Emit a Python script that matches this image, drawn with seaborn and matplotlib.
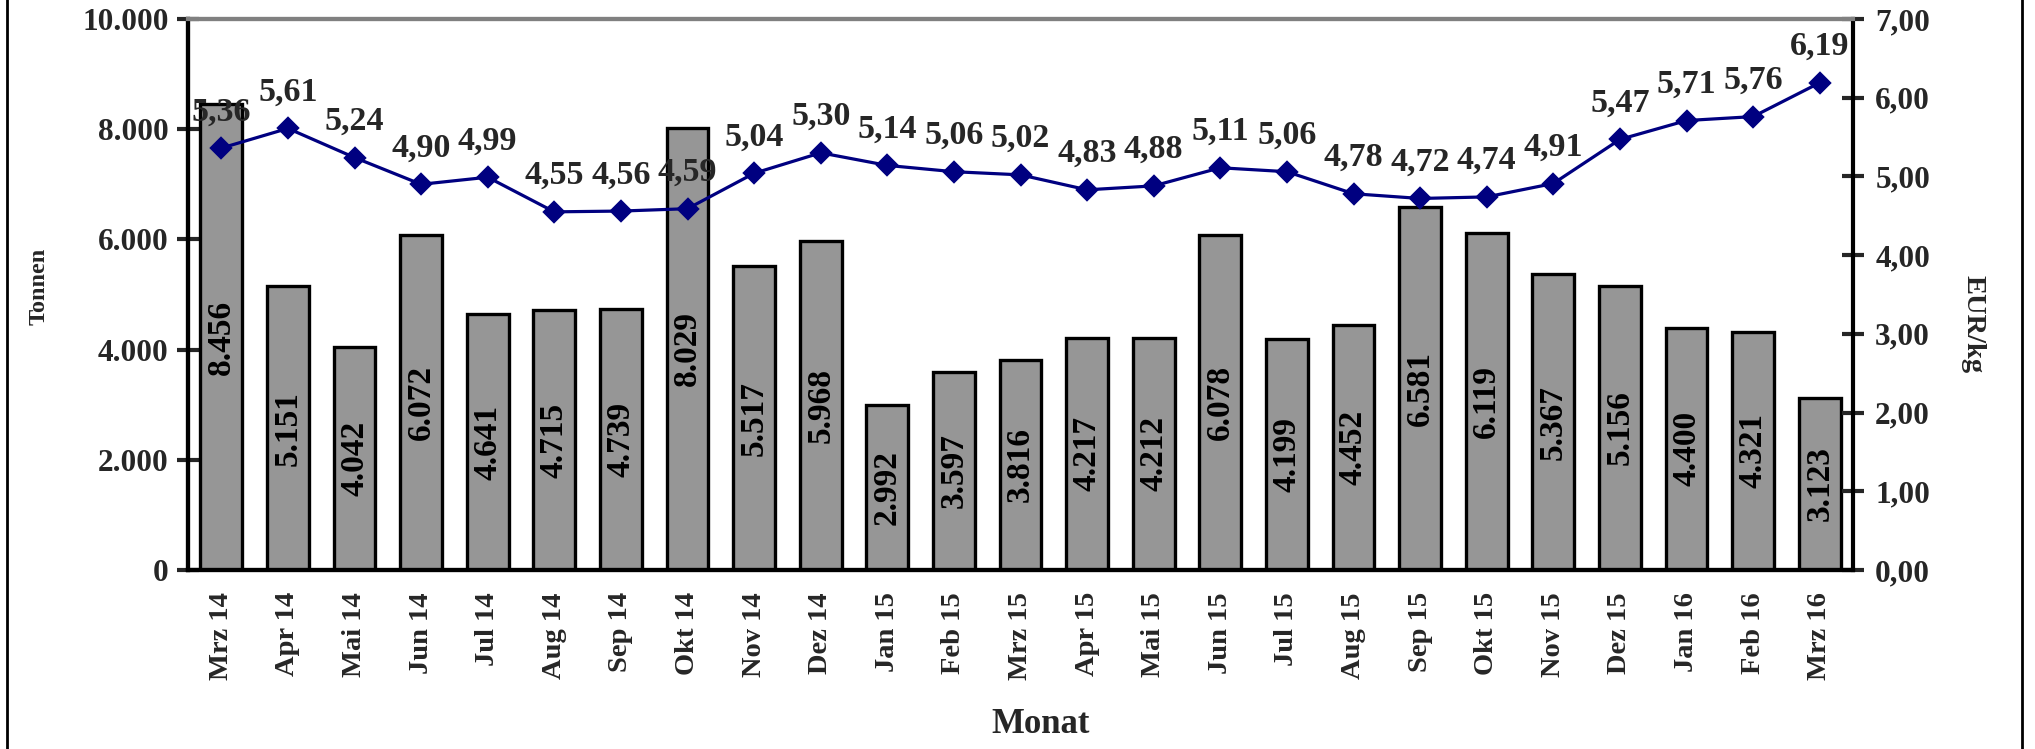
import numpy as np
import pandas as pd
import matplotlib
matplotlib.use('Agg')
import matplotlib.pyplot as plt
from matplotlib.ticker import FuncFormatter, MultipleLocator
from matplotlib.patches import Rectangle
import seaborn as sns

# data
months = ['Mrz 14', 'Apr 14', 'Mai 14', 'Jun 14', 'Jul 14', 'Aug 14', 'Sep 14', 'Okt 14',
          'Nov 14', 'Dez 14', 'Jan 15', 'Feb 15', 'Mrz 15', 'Apr 15', 'Mai 15', 'Jun 15',
          'Jul 15', 'Aug 15', 'Sep 15', 'Okt 15', 'Nov 15', 'Dez 15', 'Jan 16', 'Feb 16', 'Mrz 16']
tonnen = [8456, 5151, 4042, 6072, 4641, 4715, 4739, 8029, 5517, 5968, 2992, 3597, 3816,
          4217, 4212, 6078, 4199, 4452, 6581, 6119, 5367, 5156, 4400, 4321, 3123]
preis = [5.36, 5.61, 5.24, 4.90, 4.99, 4.55, 4.56, 4.59, 5.04, 5.30, 5.14, 5.06, 5.02,
         4.83, 4.88, 5.11, 5.06, 4.78, 4.72, 4.74, 4.91, 5.47, 5.71, 5.76, 6.19]

df = pd.DataFrame({'Monat': months, 'Tonnen': tonnen, 'Preis': preis})

sns.set_style('white')
plt.rcParams['font.family'] = ['Liberation Serif', 'DejaVu Serif']
plt.rcParams['font.weight'] = 'bold'

fig = plt.figure(figsize=(20.35, 7.49), dpi=100)
ax = fig.add_axes([188/2035, 1-570/749, (1853-188)/2035, (570-19)/749])

sns.barplot(data=df, x='Monat', y='Tonnen', color='#969696', saturation=1,
            edgecolor='black', linewidth=2.4, width=0.63, ax=ax)
ax.set_xlim(-0.5, len(months)-0.5)
ax.set_ylim(0, 10000)

# bar values inside, rotated
for i, v in enumerate(tonnen):
    ax.text(i, v/2, f'{v:,}'.replace(',', '.'), rotation=90, ha='center', va='center',
            fontsize=24, fontweight='bold', color='black')

ax2 = ax.twinx()
sns.pointplot(data=df, x='Monat', y='Preis', color='#000080', markers='D',
              linestyles='-', markersize=10, linewidth=2.3, ax=ax2, errorbar=None)
ax2.set_ylim(0, 7)
ax2.set_xlim(-0.5, len(months)-0.5)
for i, v in enumerate(preis):
    ax2.annotate(f'{v:.2f}'.replace('.', ','), (i, v), xytext=(0, 20), textcoords='offset points',
                 ha='center', va='baseline', fontsize=24.5, fontweight='bold')

# axes formatting
ax.yaxis.set_major_locator(MultipleLocator(2000))
ax.yaxis.set_major_formatter(FuncFormatter(lambda v, p: f'{int(v):,}'.replace(',', '.')))
ax2.yaxis.set_major_locator(MultipleLocator(1))
ax2.yaxis.set_major_formatter(FuncFormatter(lambda v, p: f'{v:.2f}'.replace('.', ',')))

ax.tick_params(axis='y', direction='inout', length=16, width=3, labelsize=22.5, pad=6, left=True)
ax2.tick_params(axis='y', direction='inout', length=16, width=3, labelsize=22.5, pad=8, right=True)
ax.tick_params(axis='x', length=0, labelsize=20.5, pad=16, rotation=90)
for lab in ax.get_xticklabels() + ax.get_yticklabels() + ax2.get_yticklabels():
    lab.set_fontweight('bold')

for a in (ax, ax2):
    for side in ('left', 'right', 'bottom'):
        a.spines[side].set_color('black')
        a.spines[side].set_linewidth(3)
    a.spines['top'].set_color('#808080')
    a.spines['top'].set_linewidth(3)
    a.grid(False)
ax.spines['right'].set_visible(False)

ax.set_xlabel('Monat', fontsize=25, fontweight='bold', labelpad=20)
ax.xaxis.label.set_x((1041-188)/1665)
ax.set_ylabel('')
ax2.set_ylabel('')
fig.text(39/2035, 1-286/749, 'Tonnen', rotation=90, ha='center', va='center',
         fontsize=17.5, fontweight='bold')
fig.text(1973/2035, 1-324/749, 'EUR/kg', rotation=270, ha='center', va='center',
         fontsize=20.5, fontweight='bold')

# outer frame
fig.add_artist(Rectangle((7/2035, -0.01), (2022-7)/2035, 1.02, transform=fig.transFigure,
                         fill=False, edgecolor='black', linewidth=2))

fig.savefig('out.png', dpi=100)
